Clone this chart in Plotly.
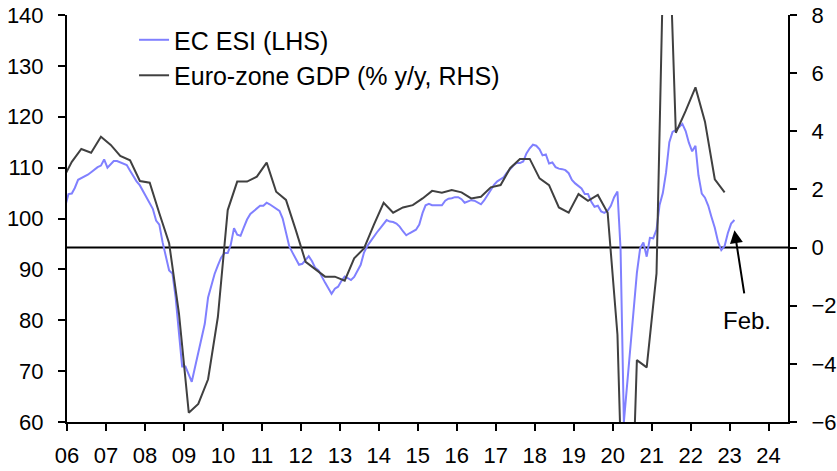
import pandas as pd
import plotly.graph_objects as go

# EC Economic Sentiment Indicator, monthly, Dec 2005 - Feb 2023
esi_start = "2005-12-01"
esi_values = [
    102.4,
    104.8, 104.9, 106.0, 107.6, 107.9, 108.2, 108.6, 109.1, 109.6, 110.1, 110.4, 111.6,  # 2006
    110.0, 110.6, 111.3, 111.3, 111.0, 110.8, 110.5, 109.4, 108.3, 107.3, 106.5, 105.3,  # 2007
    104.2, 103.0, 101.9, 99.6, 98.8, 95.3, 92.5, 89.8, 89.2, 84.5, 77.5, 70.9,  # 2008
    70.9, 69.5, 67.9, 70.8, 73.5, 76.5, 79.3, 84.5, 87.0, 89.1, 90.8, 92.3,  # 2009
    93.2, 93.2, 94.8, 98.1, 96.8, 96.6, 98.2, 99.8, 100.9, 101.4, 101.9, 102.5,  # 2010
    102.5, 103.1, 102.8, 102.3, 101.9, 101.5, 100.0, 97.0, 94.5, 93.3, 92.2, 90.9,  # 2011
    91.1, 91.8, 92.6, 91.6, 90.3, 89.8, 88.5, 87.4, 86.3, 85.2, 86.2, 86.6,  # 2012
    87.7, 88.6, 88.3, 87.9, 88.5, 89.6, 90.9, 93.3, 94.6, 95.5, 96.5, 97.3,  # 2013
    98.1, 98.9, 99.7, 99.4, 99.3, 99.0, 98.4, 97.5, 96.7, 97.1, 97.4, 97.8,  # 2014
    98.8, 101.1, 102.6, 102.9, 102.6, 102.6, 102.6, 102.6, 103.5, 103.9, 104.0, 104.2,  # 2015
    104.2, 103.8, 103.1, 103.4, 103.6, 103.5, 103.2, 102.8, 103.6, 104.6, 105.8, 106.6,  # 2016
    107.3, 107.8, 108.1, 109.0, 109.8, 110.4, 110.9, 110.9, 111.2, 112.8, 113.8, 114.5,  # 2017
    114.3, 113.6, 112.4, 112.6, 110.8, 111.0, 110.1, 109.8, 109.7, 109.5, 108.9, 107.6,  # 2018
    106.9, 106.4, 105.9, 104.8, 104.8, 103.3, 102.3, 102.5, 101.4, 101.1, 101.5, 102.5,  # 2019
    104.2, 105.3, 94.0, 60.0, 67.0, 75.5, 82.8, 89.3, 94.2, 95.3, 92.5, 96.2,  # 2020
    96.1, 97.8, 102.6, 105.0, 109.0, 115.0, 117.0, 117.4, 118.0, 118.6, 117.2, 114.9,  # 2021
    113.2, 114.3, 108.5, 104.9, 104.1, 102.5, 100.3, 98.2, 95.4, 93.8, 94.6, 97.1,  # 2022
    99.0, 99.7,  # 2023
]

# Euro-zone GDP, % y/y, quarterly, 2005Q4 - 2022Q4 (plotted at mid-quarter)
gdp_start = "2005-11-01"
gdp_values = [
    2.3,
    2.95, 3.39, 3.26, 3.81,  # 2006
    3.53, 3.15, 3.0, 2.29,  # 2007
    2.23, 1.18, 0.15, -2.26,  # 2008
    -5.68, -5.38, -4.53, -2.38,  # 2009
    1.29, 2.27, 2.27, 2.44,  # 2010
    2.92, 1.92, 1.64, 0.6,  # 2011
    -0.49, -0.74, -1.0, -1.0,  # 2012
    -1.14, -0.37, -0.03, 0.78,  # 2013
    1.54, 1.2, 1.38, 1.46,  # 2014
    1.69, 1.95, 1.89, 1.98,  # 2015
    1.90, 1.69, 1.75, 2.07,  # 2016
    2.15, 2.73, 3.05, 3.05,  # 2017
    2.38, 2.15, 1.38, 1.2,  # 2018
    1.84, 1.61, 1.81, 1.2,  # 2019
    -3.0, -14.5, -3.87, -4.12,  # 2020
    -0.89, 14.2, 3.95, 4.7,  # 2021
    5.51, 4.33, 2.35, 1.9,  # 2022
]

esi_dates = pd.date_range(esi_start, periods=len(esi_values), freq="MS") + pd.Timedelta(days=14)
gdp_dates = pd.date_range(gdp_start, periods=len(gdp_values), freq="3MS") + pd.Timedelta(days=14)

FONT = "Liberation Sans, Arial, sans-serif"

fig = go.Figure()
fig.add_trace(go.Scatter(x=esi_dates, y=esi_values, mode="lines", name="EC ESI (LHS)",
                         line=dict(color="#8080ff", width=2)))
fig.add_trace(go.Scatter(x=gdp_dates, y=gdp_values, mode="lines", name="Euro-zone GDP (% y/y, RHS)",
                         line=dict(color="#404040", width=2), yaxis="y2"))

# zero line for GDP
fig.add_shape(type="line", xref="paper", x0=0, x1=1, yref="y2", y0=0, y1=0,
              line=dict(color="black", width=2), layer="below")

fig.add_annotation(x="2023-02-15", y=97.7, ax="2023-05-20", ay=85.0, axref="x", ayref="y",
                   text="", showarrow=True, arrowhead=2, arrowsize=1.3, arrowwidth=2,
                   arrowcolor="black")
fig.add_annotation(x="2023-06-15", y=80.0, text="Feb.", showarrow=False,
                   font=dict(size=24, color="black", family=FONT))

axis_common = dict(showline=True, linecolor="black", linewidth=2, ticks="outside",
                   ticklen=7, tickwidth=2, tickcolor="black", showgrid=False, zeroline=False,
                   automargin=False, ticklabeloverflow="allow",
                   tickfont=dict(size=22, color="black", family=FONT))

fig.update_layout(
    width=837, height=471,
    margin=dict(l=67, r=49, t=15, b=49),
    paper_bgcolor="white", plot_bgcolor="white",
    font=dict(family=FONT, size=22, color="black"),
    xaxis=dict(type="date", range=["2006-01-01", "2024-07-01"], dtick="M12",
               tick0="2006-01-01", tickformat="%y", ticklabelstandoff=6, **axis_common),
    yaxis=dict(range=[60, 140], dtick=10, ticklabelstandoff=10, **axis_common),
    yaxis2=dict(range=[-6, 8], dtick=2, overlaying="y", side="right",
                ticklabelstandoff=10, **axis_common),
    legend=dict(x=0.093, y=0.995, xanchor="left", yanchor="top", bgcolor="rgba(0,0,0,0)",
                font=dict(size=25, family=FONT)),
    showlegend=True,
)

# drop the default page margin so the figure fills the window exactly
fig.write_html("out.html", config={"displayModeBar": False},
               post_script="document.body.style.margin='0';")
